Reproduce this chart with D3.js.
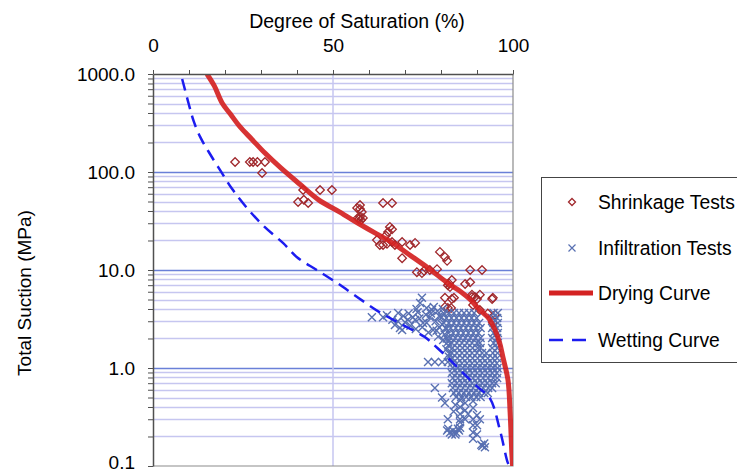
<!DOCTYPE html>
<html>
<head>
<meta charset="utf-8">
<script src="https://cdn.jsdelivr.net/npm/d3@7"></script>
<style>
  body { margin: 0; background: #fff; }
  svg { display: block; font-family: "Liberation Sans", Arial, sans-serif; }
  .axis path, .axis line { stroke: #505050; }
</style>
</head>
<body>
<svg id="chart" width="737" height="474"></svg>
<script>
// ---- data ----
var xTicks = [0, 10, 20, 30, 40, 50, 60, 70, 80, 90, 100];
var xLabels = [0, 50, 100];
var yLabels = [0.1, 1, 10, 100, 1000];

// [degree of saturation %, total suction MPa]
var dryingCurve = [
  [15, 1000], [17, 760], [19.2, 506], [21.5, 390], [24.2, 288], [27.5, 215], [31.1, 156],
  [35.5, 110], [40.8, 75], [46, 52], [51.9, 39], [57, 30], [62, 23.5], [66, 19.5],
  [71, 14.5], [76.4, 10.5], [82, 7.3], [85.5, 6.0], [88.1, 5.0], [90.8, 3.9], [93.3, 3.2],
  [95, 2.44], [96.3, 1.8], [97.2, 1.29], [98.6, 0.755], [99.2, 0.35], [99.7, 0.13], [99.9, 0.1]
];

var wettingCurve = [
  [8.1, 890], [10, 483], [11.3, 330], [13.1, 228], [15.5, 160], [18.6, 105], [22, 67],
  [26.1, 43], [31, 27.5], [36.1, 18.9], [40, 13.5], [45.5, 10], [51.1, 7.4], [56.7, 5.3],
  [63, 3.7], [69, 2.8], [75.5, 2.07], [79, 1.6], [82.5, 1.21], [86, 0.9], [90, 0.65],
  [93.6, 0.49], [96.4, 0.23], [98.6, 0.107], [99.1, 0.1]
];

var shrinkageTests = [
  [22.8, 126.5], [26.9, 126.5], [27.8, 126.5], [29, 126.5], [31.1, 126.5], [30.3, 97.7],
  [41.7, 65.5], [46.4, 65.5], [49.7, 65.5], [40.3, 49.4], [43.1, 48.3], [41.9, 52],
  [63.9, 48.3], [66.4, 48.3], [56.7, 43], [57.5, 42], [58, 39], [57.5, 46], [56.9, 34],
  [57.2, 33], [57.8, 32.4], [57.5, 35], [58.3, 34], [65.8, 27.5], [65.3, 24.4], [66.4, 26],
  [64.7, 22.5], [62.2, 20.2], [63, 18], [63.9, 18], [65, 18.5], [66.4, 19.3], [67.2, 18],
  [69.2, 19.3], [71.4, 18], [72.8, 18.9], [69.2, 13.2], [79.7, 15.3], [81.1, 13.6],
  [81.7, 12.4], [73.3, 9.5], [74.7, 9.3], [75.3, 9.8], [76.9, 10], [78.9, 10.2], [88.1, 10],
  [91.4, 10], [83, 7.9], [81.9, 7.0], [82.5, 6.7], [82.2, 7.3], [86.7, 7.2], [88.1, 7.5],
  [81.1, 5.2], [83, 5.05], [83.6, 5.2], [88.6, 5.6], [90, 5.05], [94.2, 5.05], [89.4, 5.3],
  [88.6, 5.3], [90.8, 5.6], [94.4, 5.2], [81.1, 4.2], [81.9, 4.1], [82.8, 4.1], [88.9, 4.4],
  [90.8, 3.9], [93, 3.6], [95, 3.5], [94.4, 2.9]
];

var infiltrationTests = [
  // loose points left of the main cloud
  [60.8, 3.3], [63.9, 3.3], [65, 3.45], [67.2, 2.75], [68.1, 3.64], [68.6, 2.56], [69.2, 2.44],
  [70, 2.93], [72.2, 3.3], [72.8, 3.09], [73.5, 3.7], [74.2, 4.6], [74.7, 5.2], [75, 2.88],
  [75.8, 3.5], [76.9, 3.3], [77.5, 3.9], [77.8, 2.44], [78, 4.2], [78.5, 3.0], [79.2, 2.09],
  [79.5, 2.6], [80.2, 3.3], [80.5, 4.0], [80.6, 1.93], [82, 1.7],
  [66.5, 3.1], [68, 3.0], [69.5, 3.4], [70.8, 3.1], [71.5, 2.7], [73, 2.5], [74, 3.2],
  [74.8, 2.6], [76, 2.9], [76.5, 2.3], [77.2, 3.6], [78.8, 2.4], [79.5, 3.4], [80.3, 2.8],
  [81, 2.2], [81.5, 2.5], [80.8, 3.6], [79, 3.8], [76, 4.1], [71, 3.6], [73.2, 4.0],
  [81.6, 2.0], [82, 1.85], [81.5, 1.55], [82.3, 1.4], [82.2, 1.3],
  [76.4, 1.15], [78.3, 1.15], [80.3, 1.15], [81.9, 1.15],
  // main cloud
  [82.2, 3.64], [83.6, 3.64], [85, 3.64], [86.4, 3.64], [87.8, 3.64], [89.2, 3.64], [94.6, 3.64], [95.8, 3.64],
  [81.5, 3.24], [82.9, 3.24], [84.3, 3.24], [85.7, 3.24], [87.1, 3.24], [88.5, 3.24], [89.9, 3.24], [94.2, 3.24], [95.6, 3.24],
  [80.8, 2.88], [82.2, 2.88], [83.6, 2.88], [85, 2.88], [86.4, 2.88], [87.8, 2.88], [89.2, 2.88], [90.6, 2.88], [94.6, 2.88], [95.8, 2.88],
  [81.3, 2.56], [82.7, 2.56], [84.1, 2.56], [85.5, 2.56], [86.9, 2.56], [88.3, 2.56], [89.7, 2.56], [91, 2.56], [94.2, 2.56], [95.6, 2.56],
  [82, 2.27], [83.4, 2.27], [84.8, 2.27], [86.2, 2.27], [87.6, 2.27], [89, 2.27], [90.4, 2.27], [94.6, 2.27], [95.8, 2.27],
  [82.6, 2.02], [84, 2.02], [85.4, 2.02], [86.8, 2.02], [88.2, 2.02], [89.6, 2.02], [91, 2.02], [94.2, 2.02], [95.6, 2.02],
  [83, 1.8], [84.4, 1.8], [85.8, 1.8], [87.2, 1.8], [88.6, 1.8], [90, 1.8], [90.8, 1.8], [94.6, 1.8], [95.8, 1.8],
  [83.2, 1.6], [84.6, 1.6], [86, 1.6], [87.4, 1.6], [88.8, 1.6], [90.2, 1.6], [91, 1.6], [94.2, 1.6], [95.6, 1.6],
  [83, 1.42], [84.4, 1.42], [85.8, 1.42], [87.2, 1.42], [88.6, 1.42], [90, 1.42], [91.4, 1.42], [92.6, 1.42], [94.4, 1.42], [95.7, 1.42],
  [83.2, 1.26], [84.6, 1.26], [86, 1.26], [87.4, 1.26], [88.8, 1.26], [90.2, 1.26], [91.6, 1.26], [93, 1.26], [94.4, 1.26], [95.6, 1.26],
  [83, 1.12], [84.4, 1.12], [85.8, 1.12], [87.2, 1.12], [88.6, 1.12], [90, 1.12], [91.4, 1.12], [92.8, 1.12], [94.2, 1.12], [95.5, 1.12],
  [83.3, 1.0], [84.7, 1.0], [86.1, 1.0], [87.5, 1.0], [88.9, 1.0], [90.3, 1.0], [91.7, 1.0], [93.1, 1.0], [94.5, 1.0], [95.7, 1.0],
  [83, 0.89], [84.4, 0.89], [85.8, 0.89], [87.2, 0.89], [88.6, 0.89], [90, 0.89], [91.4, 0.89], [92.8, 0.89], [94.2, 0.89], [95.5, 0.89],
  [83.3, 0.79], [84.7, 0.79], [86.1, 0.79], [87.5, 0.79], [88.9, 0.79], [90.3, 0.79], [91.7, 0.79], [93.1, 0.79], [94.5, 0.79], [95.6, 0.79],
  [83, 0.7], [84.4, 0.7], [85.8, 0.7], [87.2, 0.7], [88.6, 0.7], [90, 0.7], [91.4, 0.7], [92.8, 0.7], [94.2, 0.7], [95.2, 0.7],
  [83.3, 0.625], [84.7, 0.625], [86.1, 0.625], [87.5, 0.625], [88.9, 0.625], [90.3, 0.625], [91.7, 0.625], [93.1, 0.625], [94.2, 0.625],
  [83.6, 0.556], [85, 0.556], [86.4, 0.556], [87.8, 0.556], [89.2, 0.556], [90.6, 0.556], [92, 0.556], [93, 0.556],
  [84.2, 0.506], [85.6, 0.506], [87, 0.506], [88.4, 0.506], [89.8, 0.506], [91, 0.506],
  // tail below the cloud
  [78.3, 0.625], [80.3, 0.5], [81.1, 0.44], [81.9, 0.3], [85.3, 0.3], [90.8, 0.3], [85.3, 0.47],
  [85.3, 0.4], [85.3, 0.34], [85.3, 0.28], [85.3, 0.245], [86.7, 0.44], [86.7, 0.37], [86.7, 0.3],
  [88.9, 0.46], [88.9, 0.39], [88.9, 0.3], [88.9, 0.26], [88.9, 0.22], [88.9, 0.19], [90, 0.33],
  [90, 0.26], [90, 0.21], [83.5, 0.36], [84, 0.42], [87.5, 0.34],
  [81.7, 0.23], [82.5, 0.22], [83.3, 0.23], [84.2, 0.22], [85, 0.23], [83, 0.21], [84, 0.21],
  [82, 0.24], [84.7, 0.24], [91.5, 0.16], [92, 0.17], [92.2, 0.155], [91.2, 0.165]
];

var legendItems = ['Shrinkage Tests', 'Infiltration Tests', 'Drying Curve', 'Wetting Curve'];

// ---- chart ----
var svg = d3.select('#chart');
var x = d3.scaleLinear().domain([0, 100]).range([153, 513]);
var y = d3.scaleLog().domain([0.1, 1000]).range([466, 74]);

var minorVals = [];
[0.1, 1, 10, 100].forEach(function(dec) {
  for (var k = 2; k <= 9; k++) minorVals.push(k * dec);
});

svg.append('clipPath').attr('id', 'plot')
  .append('rect').attr('x', 153).attr('y', 74).attr('width', 360).attr('height', 392);

// gridlines
svg.append('g').selectAll('line').data(minorVals).enter().append('line')
  .attr('x1', 153).attr('x2', 513)
  .attr('y1', function(d) { return Math.round(y(d)) + 0.5; })
  .attr('y2', function(d) { return Math.round(y(d)) + 0.5; })
  .attr('stroke', '#c6c6f0').attr('stroke-width', 1.3);
svg.append('g').selectAll('line').data([1, 10, 100]).enter().append('line')
  .attr('x1', 153).attr('x2', 513)
  .attr('y1', function(d) { return Math.round(y(d)) + 0.5; })
  .attr('y2', function(d) { return Math.round(y(d)) + 0.5; })
  .attr('stroke', '#6a80d8').attr('stroke-width', 1.4);
svg.append('line')
  .attr('x1', x(50)).attr('x2', x(50)).attr('y1', 74).attr('y2', 466)
  .attr('stroke', '#c6c6f0').attr('stroke-width', 1.5);

// plot border (right / bottom)
svg.append('path')
  .attr('d', 'M' + x(100) + ',' + y(1000) + 'V' + y(0.1) + 'H' + x(0))
  .attr('fill', 'none').attr('stroke', '#8c8c8c').attr('stroke-width', 1.2);

var plot = svg.append('g').attr('clip-path', 'url(#plot)');

// shrinkage diamonds
plot.append('g').selectAll('path').data(shrinkageTests).enter().append('path')
  .attr('transform', function(d) { return 'translate(' + x(d[0]) + ',' + y(d[1]) + ')'; })
  .attr('d', 'M0,-4.3L4.3,0L0,4.3L-4.3,0Z')
  .attr('fill', 'none').attr('stroke', '#a0282c').attr('stroke-width', 1.3);

// infiltration crosses
plot.append('g').selectAll('path').data(infiltrationTests).enter().append('path')
  .attr('transform', function(d) { return 'translate(' + x(d[0]) + ',' + y(d[1]) + ')'; })
  .attr('d', 'M-4,-4L4,4M-4,4L4,-4')
  .attr('fill', 'none').attr('stroke', '#5870b2').attr('stroke-width', 1.4);

var line = d3.line()
  .x(function(d) { return x(d[0]); })
  .y(function(d) { return y(d[1]); })
  .curve(d3.curveCatmullRom.alpha(0.5));

plot.append('path').datum(dryingCurve)
  .attr('d', line).attr('fill', 'none')
  .attr('stroke', '#d42222').attr('stroke-width', 5).attr('stroke-opacity', 0.92);

plot.append('path').datum(wettingCurve)
  .attr('d', line).attr('fill', 'none')
  .attr('stroke', '#1c1cf0').attr('stroke-width', 2.5).attr('stroke-dasharray', '12,7');

// top x axis
var xAxis = svg.append('g').attr('class', 'axis')
  .attr('transform', 'translate(0,74)')
  .call(d3.axisTop(x).tickValues(xTicks).tickSize(4).tickSizeOuter(0)
    .tickFormat(function(d) { return xLabels.indexOf(d) >= 0 ? d : ''; }));
xAxis.select('.domain').attr('stroke-width', 1.5);
xAxis.selectAll('text').attr('y', -22).attr('font-size', 19).attr('fill', '#000')
  .attr('font-family', '"Liberation Sans", Arial, sans-serif');

// left y axis
var yAxis = svg.append('g').attr('class', 'axis')
  .attr('transform', 'translate(153,0)')
  .call(d3.axisLeft(y).tickValues(yLabels.concat(minorVals)).tickSize(5).tickSizeOuter(0)
    .tickFormat(function(d) { return yLabels.indexOf(d) >= 0 ? d3.format('.1f')(d) : ''; }));
yAxis.select('.domain').attr('stroke-width', 1.5);
yAxis.selectAll('text').attr('x', -18).attr('font-size', 19).attr('fill', '#000')
  .attr('font-family', '"Liberation Sans", Arial, sans-serif');
// keep the bottom label inside the picture
yAxis.selectAll('.tick').filter(function(d) { return d === 0.1; })
  .select('text').attr('dy', '0.12em');

// titles
svg.append('text').attr('x', 357).attr('y', 28).attr('text-anchor', 'middle')
  .attr('font-size', 19.5).text('Degree of Saturation (%)');
svg.append('text').attr('transform', 'translate(24,293) rotate(-90)')
  .attr('text-anchor', 'middle').attr('dy', '0.35em')
  .attr('font-size', 19).text('Total Suction (MPa)');

// legend
var lg = svg.append('g');
lg.append('rect').attr('x', 541.5).attr('y', 177.5).attr('width', 230).attr('height', 185)
  .attr('fill', '#fff').attr('stroke', '#444').attr('stroke-width', 1);
var rowsY = [202, 248, 293, 340];
lg.append('path').attr('transform', 'translate(572,' + rowsY[0] + ')')
  .attr('d', 'M0,-3.5L3.5,0L0,3.5L-3.5,0Z')
  .attr('fill', 'none').attr('stroke', '#a0282c').attr('stroke-width', 1.3);
lg.append('path').attr('transform', 'translate(572,' + rowsY[1] + ')')
  .attr('d', 'M-3.5,-3.5L3.5,3.5M-3.5,3.5L3.5,-3.5')
  .attr('fill', 'none').attr('stroke', '#5870b2').attr('stroke-width', 1.2);
lg.append('line').attr('x1', 549).attr('x2', 593).attr('y1', rowsY[2]).attr('y2', rowsY[2])
  .attr('stroke', '#d42222').attr('stroke-width', 5);
lg.append('line').attr('x1', 549).attr('x2', 594).attr('y1', rowsY[3]).attr('y2', rowsY[3])
  .attr('stroke', '#1c1cf0').attr('stroke-width', 2.5).attr('stroke-dasharray', '14,9');
lg.selectAll('text.lab').data(legendItems).enter().append('text')
  .attr('class', 'lab')
  .attr('x', 598).attr('y', function(d, i) { return rowsY[i]; })
  .attr('dy', '0.35em').attr('font-size', 19.3).text(function(d) { return d; });
</script>
</body>
</html>
